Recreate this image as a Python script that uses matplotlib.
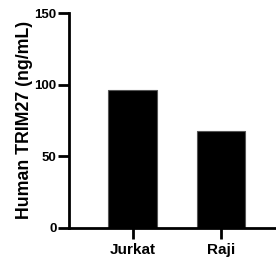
import matplotlib
matplotlib.use("Agg")
import matplotlib.pyplot as plt

cells = ["Jurkat", "Raji"]
trim27 = [96.0, 67.4]
yticks = [0, 50, 100, 150]

plt.rcParams['font.family'] = ['Liberation Sans', 'DejaVu Sans']
plt.rcParams['font.weight'] = 'bold'

fig = plt.figure(figsize=(2.76, 2.62), dpi=100)
ax = fig.add_axes([0.25, 0.131, 0.75, 0.819])

x = range(len(cells))
ax.bar(x, trim27, width=0.55, color='black', edgecolor='#555555', linewidth=0.8)

ax.set_xlim(-0.72, 1.62)
ax.set_ylim(0, 150)
ax.set_yticks(yticks)
ax.set_xticks(list(x))
ax.set_xticklabels(cells, fontsize=11, fontweight='bold')
ax.tick_params(axis='y', labelsize=9.5, width=2, length=8, pad=1)
ax.tick_params(axis='x', width=2, length=8, pad=3)
for lab in ax.get_yticklabels():
    lab.set_fontweight('bold')
ax.set_ylabel('Human TRIM27 (ng/mL)', fontsize=12.8, fontweight='bold', labelpad=1)

ax.spines['top'].set_visible(False)
ax.spines['right'].set_visible(False)
ax.spines['left'].set_linewidth(2)
ax.spines['bottom'].set_linewidth(2)

fig.savefig("out.png", dpi=100)
